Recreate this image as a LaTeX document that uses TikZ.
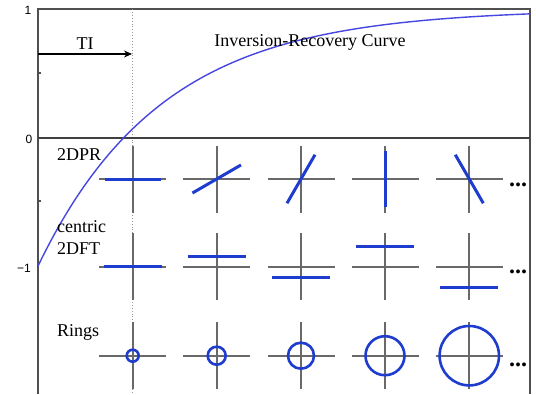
\documentclass[tikz,border=0pt]{standalone}
\usepackage{fontspec}
\setmainfont{Liberation Serif}
\newfontfamily\ticksf{Liberation Sans}
\usetikzlibrary{arrows.meta}
\definecolor{crossgrey}{RGB}{105,105,105}
\definecolor{axgrey}{RGB}{80,80,80}
\definecolor{lineblue}{RGB}{30,60,205}
\definecolor{curveblue}{RGB}{70,70,225}
\begin{document}
\begin{tikzpicture}[x=1pt,y=-1pt,
  axisln/.style={draw=axgrey,line width=1.6pt},
  zeroln/.style={draw=axgrey!80!black,line width=2pt},
  crossln/.style={draw=crossgrey,line width=1.8pt},
  blueln/.style={draw=lineblue,line width=3pt},
  ringln/.style={draw=lineblue,line width=2.6pt},
  curveln/.style={draw=curveblue,line width=1.4pt},
  lbl/.style={font=\fontsize{18}{22}\selectfont,inner sep=0pt},
  ticklbl/.style={font=\ticksf\fontsize{12}{14}\selectfont,inner sep=0pt},
  dots/.style={font=\fontsize{24}{26}\selectfont\bfseries,inner sep=0pt}]
\useasboundingbox (0,0) rectangle (536,394);
\fill[white] (0,0) rectangle (536,394);
% frame
\draw[axisln] (38,394) -- (38,9) -- (530,9) -- (530,394);
\draw[axisln] (38,73) -- (41,73);
\draw[axisln] (38,201) -- (41,201);
% dotted TI line
\draw[crossgrey!70,line width=0.9pt,dotted] (132.7,9) -- (132.7,394);
% crosses
\foreach \cx in {132.7,216.7,301,385,469.3}{
  \foreach \cy in {179,266.7,355.7}{
    \draw[crossln] (\cx-33.5,\cy) -- (\cx+33.5,\cy);
    \draw[crossln] (\cx,\cy-33.5) -- (\cx,\cy+33.5);
  }
}
% zero line
\draw[zeroln] (38,137.5) -- (530,137.5);
% row 1: 2DPR
\foreach \cx/\a in {132.7/0,216.7/30,301/60,385/90,469.3/120}{
  \draw[blueln] ({\cx+28*cos(\a)},{179-28*sin(\a)}) -- ({\cx-28*cos(\a)},{179+28*sin(\a)});
}
% row 2: centric 2DFT
\foreach \cx/\d in {132.7/0,216.7/10,301/-10.5,385/20,469.3/-21}{
  \draw[blueln] (\cx-29,266.7-\d) -- (\cx+29,266.7-\d);
}
% row 3: rings
\foreach \cx/\r in {132.7/6,216.7/9,301/13,385/19.5,469.3/29.7}{
  \draw[ringln] (\cx,355.7) circle[radius=\r];
}
% curve
\draw[curveln] plot[domain=0:492,samples=120] ({38+\x},{137.5-128.5*(1-2*exp(-\x/124))});
% TI arrow
\coordinate (tistart) at (38,54);
\coordinate (tiend) at (132,54);
\draw[draw=black,line width=1.1pt,-{Stealth[length=8pt,width=7pt]}] (tistart) -- (tiend);
% labels
\node[lbl] (ti) at (85,44) {TI};
\node[lbl] (title) at (310,42) {Inversion-Recovery Curve};
\node[lbl,anchor=west] (dpr) at (57,155) {2DPR};
\node[lbl,anchor=west,align=left] (dft) at (57,238) {centric\\2DFT};
\node[lbl,anchor=west] (rings) at (57,332) {Rings};
\node[dots,anchor=base west] (e1) at (509,186) {...};
\node[dots,anchor=base west] (e2) at (509,273.5) {...};
\node[dots,anchor=base west] (e3) at (509,366) {...};
% tick labels
\node[ticklbl] (t1) at (28,10) {1};
\node[ticklbl] (t0) at (29,139) {0};
\node[ticklbl] (tm1) at (24,268) {−1};
\end{tikzpicture}
\end{document}
